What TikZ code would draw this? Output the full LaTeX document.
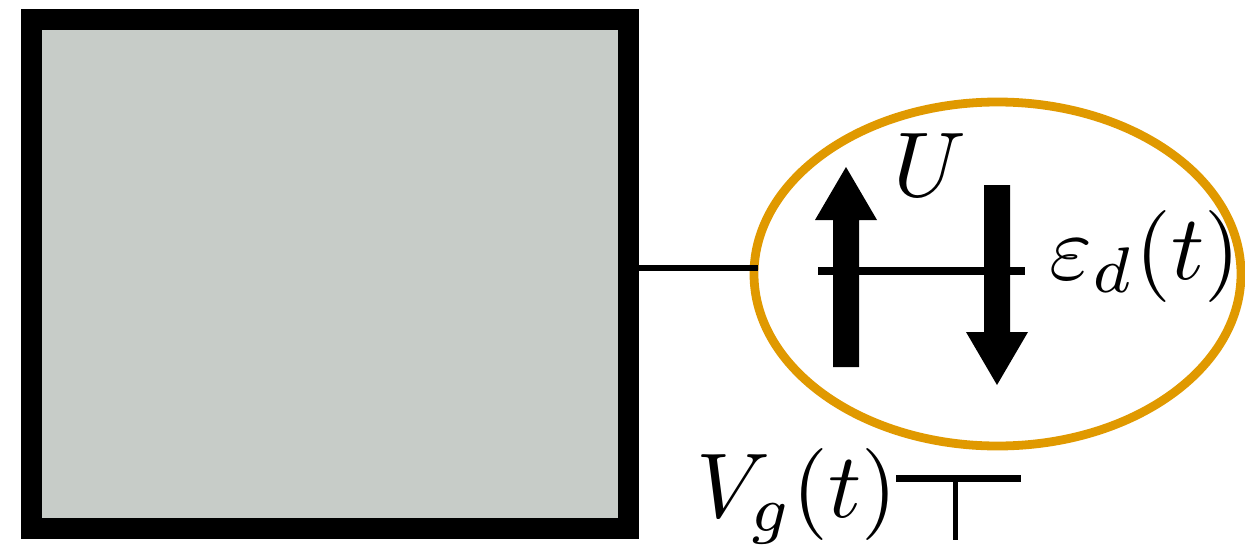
\documentclass[tikz,border=0pt]{standalone}
\usetikzlibrary{shapes.geometric}
\definecolor{boxgray}{HTML}{C7CCC8}
\definecolor{dotorange}{HTML}{E09900}
\tikzset{
  spin/.style={fill=black,draw=none},
  lbl/.style={inner sep=0pt,scale=6.9}
}
\begin{document}
\begin{tikzpicture}[x=0.75pt,y=-0.75pt]
\useasboundingbox (0,0) rectangle (1245,546);
\node[draw=black,fill=boxgray,line width=15.75pt,minimum width=596.5*0.75pt,minimum height=509*0.75pt,inner sep=0pt,anchor=center] (lead) at (330.2,274) {};
\begin{scope}
\clip (0,0) rectangle (1245,546);
\node[ellipse,draw=dotorange,line width=6.6pt,minimum width=487*0.75pt,minimum height=344*0.75pt,inner sep=0pt] (dot) at (997.5,274) {};
\end{scope}
\coordinate (leadend) at (758,268);
\coordinate (gateL) at (896,478.5);
\coordinate (gateR) at (1021,478.5);
\coordinate (gateM) at (955,478.5);
\coordinate (gateB) at (955,540);
\draw[line width=4.8pt] (lead.east |- leadend) -- (leadend);
\draw[line width=6.6pt] (818,271) -- (1025,271);
\fill[spin] (833,367) -- (859,367) -- (859,220) -- (877,220) -- (846,167) -- (815,220) -- (833,220) -- cycle;
\fill[spin] (984,185) -- (1010,185) -- (1010,332) -- (1028,332) -- (997,385) -- (966,332) -- (984,332) -- cycle;
\draw[line width=5.5pt] (gateL) -- (gateR);
\draw[line width=3.75pt] (gateM) -- (gateB);
\node[lbl] (u) at (929.5,165) {$U$};
\node[lbl] (e) at (1145,256) {$\varepsilon_d(t)$};
\node[lbl] (v) at (797,496) {$V_g(t)$};
\end{tikzpicture}
\end{document}
